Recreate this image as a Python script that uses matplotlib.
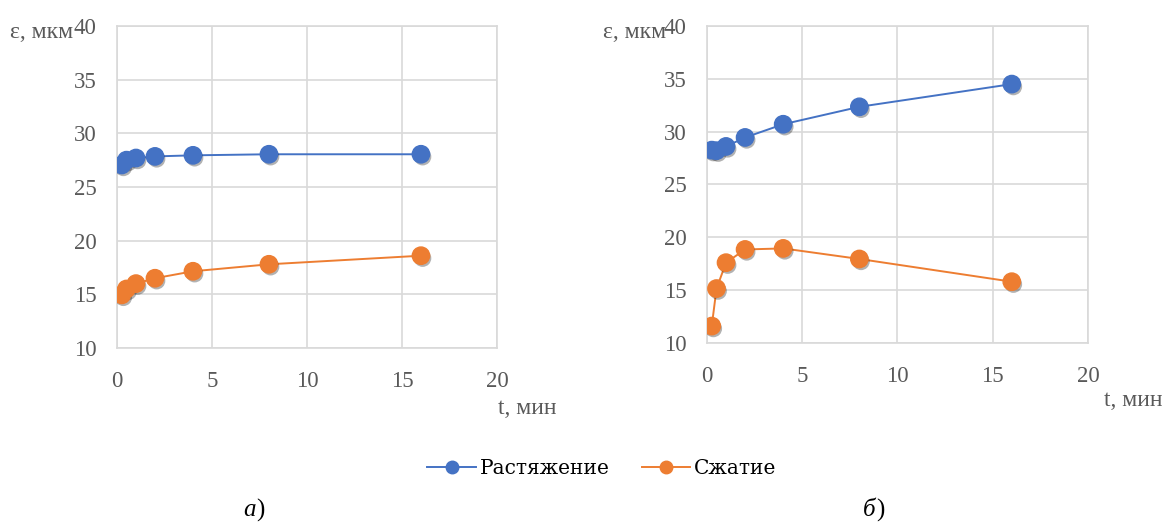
import matplotlib
matplotlib.use("Agg")
import matplotlib.pyplot as plt
import matplotlib.patheffects as pe
from matplotlib.lines import Line2D

t_min = [0.25, 0.5, 1, 2, 4, 8, 16]

# panel а)
tension_a = [27.05, 27.5, 27.7, 27.85, 27.95, 28.05, 28.05]
compression_a = [14.95, 15.5, 16.0, 16.5, 17.15, 17.8, 18.6]
# panel б)
tension_b = [28.25, 28.2, 28.6, 29.45, 30.7, 32.35, 34.5]
compression_b = [11.6, 15.15, 17.6, 18.85, 18.95, 17.95, 15.8]

x_ticks = [0, 5, 10, 15, 20]
y_ticks = [10, 15, 20, 25, 30, 35, 40]
series_names = ["Растяжение", "Сжатие"]
captions = ["а", "б"]

BLUE = "#4472C4"
ORANGE = "#ED7D31"
GRID = "#D9D9D9"
TICK = "#595959"
SERIF = ["Liberation Serif", "DejaVu Serif"]

plt.rcParams["font.family"] = SERIF

fig = plt.figure(figsize=(11.63, 5.25), dpi=100)
ax_a = fig.add_axes([0.1006, 0.3371, 0.3267, 0.6134])
ax_b = fig.add_axes([0.6079, 0.3467, 0.3276, 0.6038])

shadow = [pe.SimplePatchShadow(offset=(1.2, -1.8), shadow_rgbFace="#000000", alpha=0.3), pe.Normal()]


def draw_panel(ax, tension, compression):
    for vals, color in ((tension, BLUE), (compression, ORANGE)):
        ax.plot(t_min, vals, color=color, lw=1.4, zorder=3)
        ax.plot(t_min, vals, ls="none", marker="o", ms=12.5,
                markerfacecolor=color, markeredgecolor=color, zorder=4,
                path_effects=shadow)
    ax.set_xlim(0, 20)
    ax.set_ylim(10, 40)
    ax.set_xticks(x_ticks)
    ax.set_yticks(y_ticks)
    ax.grid(True, color=GRID, lw=1.2)
    ax.set_axisbelow(True)
    for s in ax.spines.values():
        s.set_color(GRID)
        s.set_linewidth(1.2)
    ax.tick_params(length=0, labelsize=16.5, labelcolor=TICK)
    ax.tick_params(axis="y", pad=14.5)
    ax.tick_params(axis="x", pad=16.5)


draw_panel(ax_a, tension_a, compression_a)
draw_panel(ax_b, tension_b, compression_b)

# axis labels
fig.text(10 / 1163, 1 - 32 / 525, "ε, мкм", fontsize=17, color=TICK, va="center", ha="left")
fig.text(603 / 1163, 1 - 32 / 525, "ε, мкм", fontsize=17, color=TICK, va="center", ha="left")
fig.text(556 / 1163, 1 - 409 / 525, "t, мин", fontsize=17, color=TICK, va="center", ha="right")
fig.text(1162 / 1163, 1 - 400 / 525, "t, мин", fontsize=17, color=TICK, va="center", ha="right")

# legend
handles = [Line2D([], [], color=c, lw=1.4, marker="o", ms=9, markerfacecolor=c, markeredgecolor=c)
           for c in (BLUE, ORANGE)]
fig.legend(handles, series_names, loc="center", bbox_to_anchor=(602 / 1163, 1 - 469 / 525),
           ncol=2, frameon=False, handlelength=2.4, handletextpad=0.2,
           columnspacing=1.6, prop={"family": "DejaVu Serif", "size": 14.5})

# captions
for cx, label in zip((256, 876), captions):
    fig.text(cx / 1163, 1 - 510 / 525, label, fontsize=18, style="italic", ha="right", va="center")
    fig.text(cx / 1163, 1 - 510 / 525, ")", fontsize=18, ha="left", va="center")

fig.savefig("out.png", dpi=100)
